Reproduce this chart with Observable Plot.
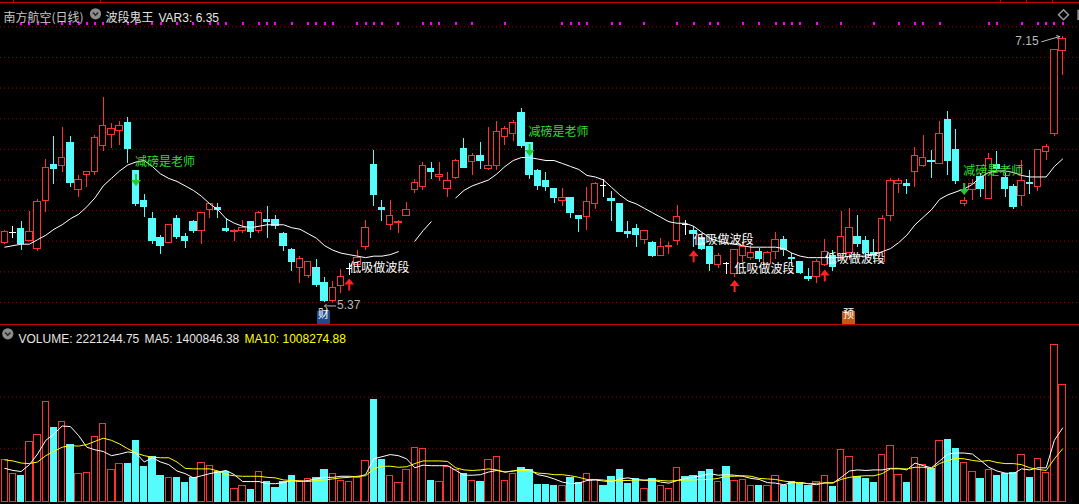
<!DOCTYPE html>
<html><head><meta charset="utf-8">
<script src="https://cdn.jsdelivr.net/npm/d3@7"></script>
<script src="https://cdn.jsdelivr.net/npm/@observablehq/plot@0.6"></script>
<style>
html,body{margin:0;padding:0;background:#000;}
#wrap{position:relative;width:1079px;height:504px;overflow:hidden;background:#000;}
#wrap svg{display:block;}
.hl{position:absolute;left:0;width:1079px;height:1px;background:#c80000;}
.tk{position:absolute;top:0;width:1px;height:3px;background:#c80000;}
</style></head><body><div id="wrap"></div>
<script>
// ---------------- data ----------------
const stockName = "南方航空(日线)";
const indicatorName = "波段鬼王";
const var3 = 6.35;

const open = [5.77,5.84,5.86,5.78,5.73,6.05,6.29,6.28,6.44,6.12,
6.22,6.24,6.42,6.49,6.52,6.57,6.25,6.05,5.93,5.80,
5.77,5.93,5.81,5.91,5.85,5.99,6.00,5.86,5.84,5.85,
5.91,5.85,5.92,5.92,5.83,5.72,5.60,5.55,5.60,5.50,
5.38,5.48,5.60,5.62,5.74,6.29,6.00,5.89,5.90,5.95,
6.12,6.14,6.26,6.21,6.13,6.20,6.40,6.31,6.35,6.26,
6.28,6.48,6.50,6.64,6.44,6.25,6.18,6.13,6.05,6.07,
5.95,5.94,6.03,6.15,6.06,6.03,5.84,5.86,5.79,5.77,
5.68,5.74,5.78,5.89,5.85,5.80,5.74,5.62,5.63,5.56,
5.68,5.67,5.71,5.63,5.71,5.79,5.67,5.64,5.54,5.54,
5.62,5.68,5.68,5.70,5.81,5.78,5.70,5.64,5.95,6.16,
6.16,6.24,6.28,6.32,6.30,6.59,6.39,6.03,6.12,6.21,
6.06,6.29,6.20,6.14,6.08,6.17,6.14,6.38,6.50,7.05];
const high = [5.85,5.88,5.91,5.98,6.06,6.33,6.48,6.54,6.48,6.22,
6.24,6.49,6.74,6.57,6.58,6.61,6.25,6.09,5.97,5.82,
5.89,5.95,5.83,5.92,5.97,6.03,6.03,5.93,5.86,5.92,
5.91,5.98,6.01,5.95,5.84,5.73,5.68,5.64,5.66,5.54,
5.51,5.59,5.63,5.72,5.92,6.39,6.05,6.05,5.92,6.04,
6.19,6.31,6.31,6.31,6.24,6.33,6.47,6.37,6.44,6.54,
6.58,6.55,6.59,6.67,6.44,6.26,6.24,6.13,6.13,6.07,
5.95,6.14,6.17,6.19,6.11,6.03,5.91,5.89,5.85,5.78,
5.80,5.77,6.02,5.92,5.88,5.81,5.74,5.70,5.64,5.72,
5.77,5.75,5.73,5.71,5.84,5.81,5.70,5.64,5.60,5.66,
5.79,5.72,5.98,6.00,5.95,5.81,5.79,5.95,6.20,6.20,
6.19,6.41,6.49,6.39,6.58,6.65,6.53,6.07,6.19,6.23,
6.37,6.38,6.23,6.16,6.32,6.25,6.39,6.43,7.06,7.15];
const low = [5.76,5.80,5.72,5.78,5.71,5.97,6.16,6.24,6.14,6.07,
6.14,6.22,6.38,6.40,6.42,6.30,6.01,5.94,5.76,5.69,
5.77,5.79,5.73,5.83,5.76,5.93,5.93,5.84,5.78,5.83,
5.80,5.83,5.80,5.86,5.71,5.58,5.50,5.53,5.47,5.37,
5.37,5.43,5.55,5.61,5.72,6.01,5.91,5.85,5.83,5.95,
6.10,6.12,6.19,6.18,6.07,6.19,6.27,6.22,6.26,6.25,
6.25,6.42,6.45,6.40,6.19,6.12,6.11,6.03,6.01,5.93,
5.84,5.85,5.99,6.07,5.91,5.84,5.80,5.74,5.76,5.67,
5.68,5.69,5.75,5.82,5.74,5.72,5.58,5.60,5.56,5.54,
5.64,5.65,5.64,5.62,5.66,5.68,5.61,5.56,5.51,5.50,
5.61,5.58,5.65,5.65,5.74,5.67,5.66,5.64,5.91,6.10,
6.09,6.14,6.27,6.20,6.30,6.22,6.16,6.01,6.05,6.07,
6.06,6.25,6.07,5.99,6.01,6.09,6.11,6.32,6.48,6.89];
const close = [5.84,5.84,5.76,5.84,6.04,6.27,6.26,6.34,6.17,6.19,
6.24,6.47,6.55,6.53,6.55,6.40,6.03,6.01,5.78,5.75,
5.89,5.81,5.78,5.85,5.97,6.03,5.99,5.85,5.85,5.87,
5.84,5.97,5.91,5.88,5.75,5.64,5.66,5.64,5.49,5.38,
5.47,5.54,5.60,5.67,5.87,6.09,5.99,5.95,5.91,5.99,
6.17,6.28,6.24,6.22,6.18,6.32,6.27,6.35,6.32,6.28,
6.51,6.53,6.57,6.42,6.22,6.15,6.14,6.07,6.07,5.97,
5.93,6.04,6.16,6.15,6.05,5.84,5.83,5.82,5.85,5.68,
5.74,5.75,5.94,5.89,5.83,5.73,5.63,5.68,5.63,5.72,
5.74,5.70,5.66,5.70,5.79,5.72,5.66,5.57,5.53,5.64,
5.71,5.61,5.81,5.87,5.76,5.70,5.69,5.93,6.18,6.18,
6.15,6.35,6.34,6.31,6.50,6.32,6.18,6.05,6.16,6.13,
6.33,6.26,6.13,6.01,6.18,6.16,6.39,6.41,7.06,7.13];
// white trend line of the indicator (gaps where it is not drawn)
const trendLine = [5.74,5.75,5.76,5.76,5.79,5.82,5.86,5.89,5.93,5.96,
6.01,6.07,6.15,6.20,6.25,6.29,6.31,6.32,6.28,6.23,
6.20,6.18,6.15,6.12,6.08,6.03,5.99,5.93,5.90,5.88,
5.87,5.88,5.89,5.89,5.89,5.87,5.86,5.83,5.80,5.75,
5.72,5.70,5.69,5.68,5.67,5.68,5.68,5.69,5.71,null,
5.78,5.85,5.91,null,null,6.07,6.12,6.15,6.17,6.19,
6.23,6.28,6.32,6.34,6.34,6.33,6.32,6.32,6.30,6.28,
6.26,6.22,6.21,6.19,6.14,6.09,6.05,6.03,6.00,5.97,
5.94,5.91,5.90,5.90,5.88,5.84,5.80,5.78,5.77,5.76,
5.75,5.74,5.74,5.74,5.74,5.73,5.70,5.68,5.67,5.67,
5.67,5.67,5.67,5.68,5.68,5.68,5.69,5.71,5.73,5.77,
5.82,5.89,5.94,5.99,6.06,6.09,6.11,6.13,6.16,6.21,
6.24,6.25,6.25,6.24,6.22,6.21,6.21,6.21,6.28,6.33];
const volume = [800000,540000,500000,1140000,1270000,1900000,1410000,1520000,1090000,540000,
560000,1240000,1480000,610000,730000,730000,1150000,660000,860000,490000,
460000,450000,370000,450000,740000,690000,570000,570000,250000,310000,
230000,570000,390000,260000,390000,500000,400000,440000,460000,600000,
540000,400000,390000,450000,780000,1940000,790000,500000,370000,610000,
1030000,1010000,410000,390000,670000,600000,540000,400000,390000,800000,
860000,400000,540000,650000,600000,330000,330000,310000,300000,450000,
370000,540000,420000,300000,480000,600000,350000,440000,250000,440000,
310000,250000,650000,470000,500000,580000,600000,390000,670000,400000,
420000,300000,300000,300000,490000,300000,380000,360000,300000,390000,
500000,280000,980000,860000,470000,430000,370000,900000,1070000,520000,
370000,840000,710000,630000,1160000,1170000,1000000,740000,570000,430000,
610000,500000,540000,560000,900000,450000,820000,560000,2980000,2221244.75];
const volMA5 = [640000,600000,580000,710000,910000,1170000,1290000,1440000,1430000,1260000,
1040000,990000,960000,880000,910000,950000,930000,760000,840000,760000,
710000,590000,540000,460000,500000,540000,570000,600000,520000,390000,
390000,390000,350000,350000,370000,410000,390000,410000,440000,470000,
470000,490000,490000,480000,520000,820000,860000,900000,880000,820000,
650000,700000,690000,690000,690000,600000,510000,510000,520000,570000,
600000,570000,590000,620000,610000,520000,490000,440000,380000,350000,
360000,410000,420000,400000,390000,440000,460000,430000,410000,420000,
380000,360000,410000,450000,470000,500000,540000,510000,520000,510000,
490000,450000,430000,370000,360000,330000,370000,370000,350000,330000,
370000,360000,470000,590000,610000,600000,610000,610000,640000,640000,
610000,740000,690000,650000,780000,910000,930000,930000,910000,790000,
660000,590000,550000,540000,630000,610000,650000,650000,1170000,1400846.38];
const volMA10 = [800000,780000,740000,730000,760000,880000,960000,1040000,1070000,1060000,
1090000,1150000,1210000,1170000,1100000,1010000,930000,880000,850000,840000,
840000,760000,640000,630000,630000,630000,590000,520000,500000,490000,
490000,490000,470000,460000,420000,410000,400000,390000,410000,420000,
440000,460000,470000,490000,500000,630000,680000,680000,660000,670000,
730000,780000,780000,780000,770000,650000,610000,600000,610000,630000,
610000,570000,590000,600000,590000,550000,540000,520000,520000,500000,
470000,430000,430000,420000,400000,410000,410000,420000,420000,420000,
410000,400000,410000,420000,420000,430000,430000,450000,490000,490000,
500000,490000,450000,440000,430000,400000,380000,370000,350000,360000,
360000,370000,430000,470000,490000,500000,500000,540000,630000,630000,
630000,660000,660000,640000,730000,790000,830000,820000,790000,770000,
790000,750000,730000,730000,710000,650000,620000,600000,820000,1008274.88];
// magenta signal dots along the top
const signalDots = [2,3,4,5,7,8,9,10,11,12,15,16,18,19,21,23,25,26,27,29,31,32,33,35,37,38,39,40,
43,44,45,46,48,51,52,53,55,57,61,68,69,70,71,74,75,78,82,84,86,87,90,92,94,95,96,97,
99,102,106,109,111,112,114,120,121,124,126,127,128,129];
const buyIdx = [42, 84, 89, 100];
const buyLabel = "低吸做波段";
const sellIdx = [16, 64, 117];
const sellLevel = [6.23, 6.43, 6.17];
const sellLabel = "减磅是老师";
const eventIdx = [39, 103];
const eventText = ["财", "预"];
const priceGrid = [5.37, 5.575, 5.78, 5.985, 6.19, 6.395, 6.60, 6.805, 7.01, 7.215];
const volGrid = [1010000, 1990000];

// ---------------- drawing ----------------
const RED = "#ff3232", CYAN = "#54fcfc", GRID = "#a00000";
const CJK = "Noto Sans CJK SC";
const LAT = "Liberation Sans";
const rows = open.map((o, i) => ({i, o, h: high[i], l: low[i], c: close[i], v: volume[i],
  ma: trendLine[i], m5: volMA5[i], m10: volMA10[i]}));
const candleColor = d => d.c > d.o ? RED : d.c < d.o ? CYAN : "#ffffff";
const volUp = d => d.c > d.o || (d.c === d.o && (d.i === 0 || d.c >= close[d.i - 1]));
const xScale = {domain: [-0.52439, 131.061], axis: null};
const W = 1079;

const upArrow = {draw(ctx) {ctx.moveTo(0,-6);ctx.lineTo(5,0);ctx.lineTo(1,0);ctx.lineTo(1,6);ctx.lineTo(-1,6);ctx.lineTo(-1,0);ctx.lineTo(-5,0);ctx.closePath();}};
const downArrow = {draw(ctx) {ctx.moveTo(0,6);ctx.lineTo(5,0);ctx.lineTo(1,0);ctx.lineTo(1,-6);ctx.lineTo(-1,-6);ctx.lineTo(-1,0);ctx.lineTo(-5,0);ctx.closePath();}};
const chevron = {draw(ctx) {ctx.moveTo(-2.6,-1.2);ctx.lineTo(0,1.4);ctx.lineTo(2.6,-1.2);}};

const lowIdx = low.indexOf(d3.min(low));
const highIdx = high.indexOf(d3.max(high));
const buys = buyIdx.map(i => rows[i]);
const sells = sellIdx.map((i, k) => ({i, y: sellLevel[k]}));
const events = eventIdx.map((i, k) => ({i, t: eventText[k]}));
const dojis = rows.filter(d => d.c === d.o);

const priceChart = Plot.plot({
  width: W, height: 325, margin: 0,
  x: xScale,
  y: {domain: [5.2158, 7.391], axis: null},
  style: {background: "#000", fontFamily: LAT, overflow: "hidden"},
  marks: [
    Plot.ruleY(priceGrid, {stroke: GRID, strokeDasharray: "1,3"}),
    Plot.ruleX(rows, {x: "i", y1: "l", y2: "h", stroke: candleColor, shapeRendering: "crispEdges"}),
    Plot.rect(rows.filter(d => d.c !== d.o), {x1: d => d.i - 0.38, x2: d => d.i + 0.38, y1: "o", y2: "c",
      fill: d => d.c > d.o ? "#000" : CYAN, stroke: candleColor, shapeRendering: "crispEdges"}),
    Plot.ruleY(dojis, {y: "c", x1: d => d.i - 0.38, x2: d => d.i + 0.38, stroke: candleColor, shapeRendering: "crispEdges"}),
    Plot.line(rows, {x: "i", y: "ma", stroke: "#ffffff", strokeWidth: 1}),
    Plot.dot(signalDots, {x: d => d, frameAnchor: "top", dy: 23, symbol: "square", r: 1.13, fill: "#ff00ff", shapeRendering: "crispEdges"}),
    // buy signals
    Plot.dot(buys, {x: "i", y: "l", dy: 9, symbol: upArrow, fill: "#ff2020", stroke: null}),
    Plot.text(buys, {x: "i", y: "l", dy: -7.5, text: () => buyLabel, textAnchor: "start", fill: "#ffffff", fontSize: 12, fontFamily: CJK}),
    // sell signals
    Plot.dot(sells, {x: "i", y: "y", dy: 6, symbol: downArrow, fill: "#2ac82a", stroke: null}),
    Plot.text(sells, {x: "i", y: "y", dy: -11.5, dx: -1, text: () => sellLabel, textAnchor: "start", fill: "#33dd33", fontSize: 12, fontFamily: CJK}),
    // low label: pointer + value
    Plot.arrow([rows[lowIdx]], {x1: d => d.i + 1.35, y1: "l", x2: "i", y2: "l", dy: 3.5, stroke: "#b9b9b9", headLength: 4, headAngle: 90, strokeWidth: 1}),
    Plot.text([rows[lowIdx]], {x: "i", y: "l", dx: 12.5, dy: 3, text: d => d3.format(".2f")(d.l), textAnchor: "start", fill: "#b9b9b9", fontSize: 12}),
    // high label
    Plot.text([rows[highIdx]], {x: "i", y: "h", dx: -24, dy: 4.5, text: d => d3.format(".2f")(d.h), textAnchor: "end", fill: "#b9b9b9", fontSize: 12}),
    Plot.arrow([rows[highIdx]], {x1: d => d.i - 2.55, y1: d => d.h - 0.035, x2: d => d.i - 0.35, y2: "h", stroke: "#b9b9b9", headLength: 5, strokeWidth: 1}),
    // event boxes
    Plot.dot(events, {x: "i", frameAnchor: "bottom", dx: -1, dy: -8, symbol: "square", r: 7.2,
      fill: d => d.t === "财" ? "#1c4a8c" : "#c05a18", stroke: null, shapeRendering: "crispEdges"}),
    Plot.text(events, {x: "i", frameAnchor: "bottom", dx: -1, dy: -7.5, text: "t", fill: "#ffffff", fontSize: 11, fontFamily: CJK}),
    // header
    Plot.text([stockName], {frameAnchor: "top-left", dx: 3, dy: 12.5, text: d => d, textAnchor: "start", fill: "#c8c8c8", fontSize: 12, fontFamily: CJK}),
    Plot.dot([0], {frameAnchor: "top-left", dx: 95, dy: 13.3, r: 5.6, fill: "#8c8c8c", stroke: null}),
    Plot.dot([0], {frameAnchor: "top-left", dx: 95, dy: 13.3, symbol: chevron, fill: "none", stroke: "#222", strokeWidth: 1.4}),
    Plot.text([indicatorName], {frameAnchor: "top-left", dx: 105, dy: 12.5, text: d => d, textAnchor: "start", fill: "#e0e0e0", fontSize: 12, fontFamily: CJK}),
    Plot.text([var3], {frameAnchor: "top-left", dx: 158, dy: 12.5, text: d => "VAR3: " + d3.format(".2f")(d), textAnchor: "start", fill: "#e6e6e6", fontSize: 12}),
    Plot.dot([0], {frameAnchor: "top-right", dx: -16, dy: 14.3, symbol: "diamond2", r: 4.5, fill: "none", stroke: "#9a9a9a"}),
    Plot.dot([0], {frameAnchor: "top-right", dx: 3, dy: 14.3, symbol: "square2", r: 5.6, fill: "none", stroke: "#9a9a9a"})
  ]
});

const volChart = Plot.plot({
  width: W, height: 179, margin: 0,
  x: xScale,
  y: {domain: [-43478, 3340265], axis: null},
  style: {background: "#000", fontFamily: LAT, overflow: "hidden"},
  marks: [
    Plot.ruleY(volGrid, {stroke: GRID, strokeDasharray: "1,3"}),
    Plot.rect(rows, {x1: d => d.i - 0.38, x2: d => d.i + 0.38, y1: 0, y2: "v",
      fill: d => volUp(d) ? "#000" : CYAN, stroke: d => volUp(d) ? RED : CYAN, shapeRendering: "crispEdges"}),
    Plot.line(rows, {x: "i", y: "m5", stroke: "#ffffff", strokeWidth: 1}),
    Plot.line(rows, {x: "i", y: "m10", stroke: "#ffff00", strokeWidth: 1}),
    Plot.dot([0], {frameAnchor: "top-left", dx: 7.3, dy: 8.3, r: 5.6, fill: "#8c8c8c", stroke: null}),
    Plot.dot([0], {frameAnchor: "top-left", dx: 7.3, dy: 8.3, symbol: chevron, fill: "none", stroke: "#222", strokeWidth: 1.4}),
    Plot.text([volume[volume.length - 1]], {frameAnchor: "top-left", dx: 18, dy: 8.5, text: d => "VOLUME: " + d3.format(".2f")(d), textAnchor: "start", fill: "#e6e6e6", fontSize: 12}),
    Plot.text([volMA5[volMA5.length - 1]], {frameAnchor: "top-left", dx: 144, dy: 8.5, text: d => "MA5: " + d3.format(".2f")(d), textAnchor: "start", fill: "#e6e6e6", fontSize: 12}),
    Plot.text([volMA10[volMA10.length - 1]], {frameAnchor: "top-left", dx: 244, dy: 8.5, text: d => "MA10: " + d3.format(".2f")(d), textAnchor: "start", fill: "#ffff00", fontSize: 12})
  ]
});

const wrap = document.getElementById("wrap");
wrap.appendChild(priceChart);
wrap.appendChild(volChart);
// panel separator and top strip lines
const l1 = document.createElement("div"); l1.className = "hl"; l1.style.top = "324px"; wrap.appendChild(l1);
const l2 = document.createElement("div"); l2.className = "hl"; l2.style.top = "2px"; wrap.appendChild(l2);
[13, 100, 1000, 1026, 1052].forEach(x => {const t = document.createElement("div"); t.className = "tk"; t.style.left = x + "px"; wrap.appendChild(t);});
</script></body></html>
